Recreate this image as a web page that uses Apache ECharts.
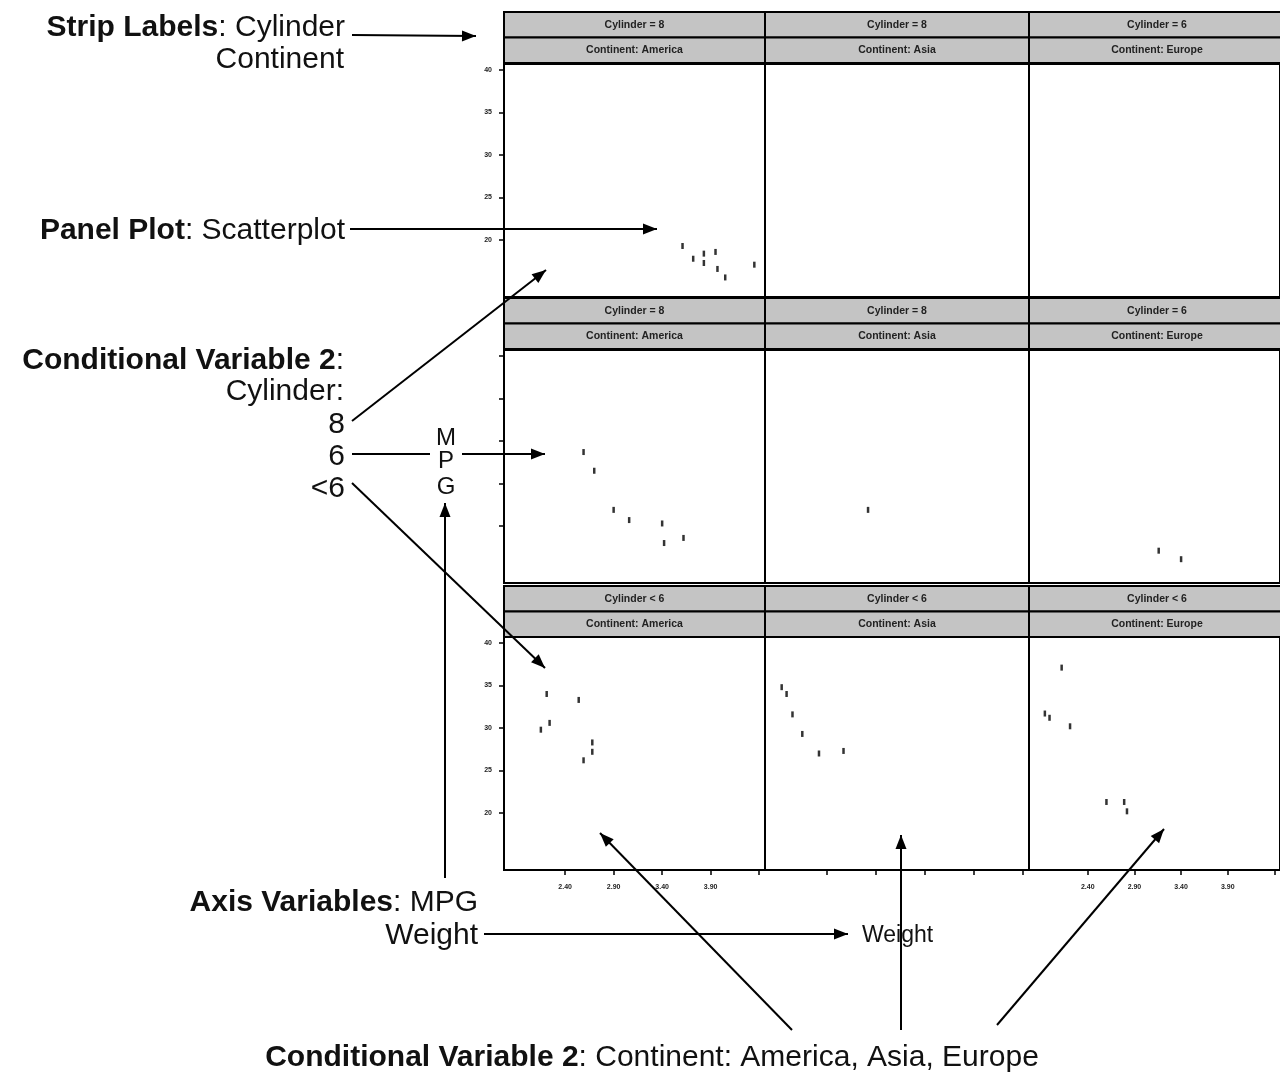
<!DOCTYPE html>
<html><head><meta charset="utf-8">
<script src="https://cdn.jsdelivr.net/npm/echarts@6/dist/echarts.min.js"></script>
<style>html,body{margin:0;padding:0;background:#fff}#c{width:1280px;height:1072px}</style>
</head><body><div id="c"></div>
<script>
// ---- data (Weight in 1000 lbs, MPG) ----
const cylinders = ['8', '6', '<6'];
const continents = ['America', 'Asia', 'Europe'];
const stripCyl = [
  ['Cylinder = 8', 'Cylinder = 8', 'Cylinder = 6'],
  ['Cylinder = 8', 'Cylinder = 8', 'Cylinder = 6'],
  ['Cylinder < 6', 'Cylinder < 6', 'Cylinder < 6']
];
const stripCont = ['Continent: America', 'Continent: Asia', 'Continent: Europe'];

const cyl8America_weight = [3.61, 3.72, 3.83, 3.83, 3.95, 3.97, 4.05, 4.35];
const cyl8America_mpg    = [19.3, 17.8, 18.4, 17.3, 18.6, 16.6, 15.6, 17.1];
const cyl8Asia_weight = [];
const cyl8Asia_mpg    = [];
const cyl8Europe_weight = [];
const cyl8Europe_mpg    = [];

const cyl6America_weight = [2.59, 2.70, 2.90, 3.06, 3.40, 3.42, 3.62];
const cyl6America_mpg    = [28.7, 26.5, 21.9, 20.7, 20.3, 18.0, 18.6];
const cyl6Asia_weight = [2.82];
const cyl6Asia_mpg    = [21.9];
const cyl6Europe_weight = [3.16, 3.40];
const cyl6Europe_mpg    = [17.1, 16.1];

const cylLt6America_weight = [2.21, 2.15, 2.24, 2.54, 2.59, 2.68, 2.68];
const cylLt6America_mpg    = [34.0, 29.8, 30.6, 33.3, 26.2, 27.2, 28.3];
const cylLt6Asia_weight = [1.94, 1.99, 2.05, 2.15, 2.32, 2.57];
const cylLt6Asia_mpg    = [34.8, 34.0, 31.6, 29.3, 27.0, 27.3];
const cylLt6Europe_weight = [2.12, 1.94, 1.99, 2.21, 2.60, 2.79, 2.82];
const cylLt6Europe_mpg    = [37.1, 31.7, 31.2, 30.2, 21.3, 21.3, 20.2];

const yTicks = [20, 25, 30, 35, 40];
const xTicks = [2.40, 2.90, 3.40, 3.90, 4.40];
const xLabels = [2.40, 2.90, 3.40, 3.90];
const X_MIN = 1.77, X_MAX = 4.46, Y_MIN = 13.3, Y_MAX = 40.7;

const panelData = [
  [[cyl8America_weight, cyl8America_mpg], [cyl8Asia_weight, cyl8Asia_mpg], [cyl8Europe_weight, cyl8Europe_mpg]],
  [[cyl6America_weight, cyl6America_mpg], [cyl6Asia_weight, cyl6Asia_mpg], [cyl6Europe_weight, cyl6Europe_mpg]],
  [[cylLt6America_weight, cylLt6America_mpg], [cylLt6Asia_weight, cylLt6Asia_mpg], [cylLt6Europe_weight, cylLt6Europe_mpg]]
];

// ---- layout ----
const colLeft = [504, 765, 1029], colW = [261, 264, 264];
const rowTop = [64, 350, 637], rowH = 233;
const stripTop = [12, 298, 586], stripH = 25.5;
const FONT = '"Liberation Sans", Arial, sans-serif';

const grids = [], xAxes = [], yAxes = [], series = [];
let gi = 0;
for (let r = 0; r < 3; r++) {
  for (let c = 0; c < 3; c++) {
    grids.push({left: colLeft[c], top: rowTop[r], width: colW[c], height: rowH,
      show: true, borderColor: '#000', borderWidth: 2, backgroundColor: '#fff'});
    xAxes.push({type: 'value', gridIndex: gi, min: X_MIN, max: X_MAX,
      axisLine: {show: false}, splitLine: {show: false},
      axisTick: {show: r === 2, length: 5, lineStyle: {color: '#000', width: 1.5}, customValues: xTicks},
      axisLabel: {show: r === 2 && c !== 1, customValues: xLabels, margin: 14,
        formatter: v => v.toFixed(2), fontSize: 7, fontWeight: 'bold', color: '#222', fontFamily: FONT}});
    yAxes.push({type: 'value', gridIndex: gi, min: Y_MIN, max: Y_MAX,
      axisLine: {show: false}, splitLine: {show: false},
      axisTick: {show: c === 0, length: 5, lineStyle: {color: '#000', width: 1.5}, customValues: yTicks},
      axisLabel: {show: c === 0 && r !== 1, customValues: yTicks, margin: 12,
        fontSize: 7, fontWeight: 'bold', color: '#222', fontFamily: FONT}});
    const [w, m] = panelData[r][c];
    series.push({type: 'scatter', xAxisIndex: gi, yAxisIndex: gi,
      data: w.map((x, i) => [x, m[i]]), symbol: 'rect', symbolSize: [2.5, 6],
      itemStyle: {color: '#000'}, silent: true});
    gi++;
  }
}

// ---- strips & annotations ----
const g = [];
for (let r = 0; r < 3; r++) {
  for (let c = 0; c < 3; c++) {
    [stripCyl[r][c], stripCont[c]].forEach((t, k) => {
      const y = stripTop[r] + k * stripH;
      g.push({type: 'rect', shape: {x: colLeft[c], y: y, width: colW[c], height: stripH},
        style: {fill: '#c4c4c4', stroke: '#000', lineWidth: 2}, z: 50});
      g.push({type: 'text', x: colLeft[c] + colW[c] / 2 - (c === 2 ? 4 : 0), y: y + stripH / 2,
        style: {text: t, align: 'center', verticalAlign: 'middle', font: 'bold 10.5px ' + FONT, fill: '#222'}, z: 51});
    });
  }
}
function arrow(x1, y1, x2, y2, head = true) {
  const els = [{type: 'line', shape: {x1, y1, x2, y2}, style: {stroke: '#000', lineWidth: 2}, z: 100}];
  if (head) {
    const a = Math.atan2(y2 - y1, x2 - x1), L = 14, W = 5.5;
    const bx = x2 - L * Math.cos(a), by = y2 - L * Math.sin(a);
    els.push({type: 'polygon', shape: {points: [[x2, y2],
      [bx + W * Math.sin(a), by - W * Math.cos(a)], [bx - W * Math.sin(a), by + W * Math.cos(a)]]},
      style: {fill: '#000'}, z: 100});
  }
  return els;
}
function label(text, x, y, size, align) {
  return {type: 'text', x, y, z: 100, style: {text, align: align || 'right', verticalAlign: 'middle',
    font: size + 'px ' + FONT, fill: '#111', rich: {b: {fontWeight: 'bold', fontSize: size, fontFamily: FONT, fill: '#111'}}}};
}
const D = 2.5; // vertical nudge so cap-heights line up with the reference
g.push(label('{b|Strip Labels}: Cylinder', 345, 25 + D, 30));
g.push(label('Continent', 344, 57 + D, 30));
g.push(...arrow(352, 35, 476, 36));
g.push(label('{b|Panel Plot}: Scatterplot', 345, 228 + D, 30));
g.push(...arrow(350, 229, 657, 229));
g.push(label('{b|Conditional Variable 2}:', 344, 358 + D, 30));
g.push(label('Cylinder:', 344, 389 + D, 30));
g.push(label('8', 345, 422 + D, 30));
g.push(label('6', 345, 454 + D, 30));
g.push(label('<6', 345, 486 + D, 30));
g.push(...arrow(352, 421, 546, 270));
g.push(...arrow(352, 454, 430, 454, false));
g.push(label('M', 446, 437 + 1, 24, 'center'));
g.push(label('P', 446, 460 + 1, 24, 'center'));
g.push(label('G', 446, 486 + 1, 24, 'center'));
g.push(...arrow(462, 454, 545, 454));
g.push(...arrow(352, 483, 545, 668));
g.push(...arrow(445, 878, 445, 503));
g.push(label('{b|Axis Variables}: MPG', 478, 900 + D, 30));
g.push(label('Weight', 478, 933 + D, 30));
g.push(...arrow(484, 934, 848, 934));
g.push(label('Weight', 862, 935 + 1, 23, 'left'));
g.push(label('{b|Conditional Variable 2}: Continent: America, Asia, Europe', 652, 1055 + D, 30, 'center'));
g.push(...arrow(792, 1030, 600, 833));
g.push(...arrow(901, 1030, 901, 835));
g.push(...arrow(997, 1025, 1164, 829));

const chart = echarts.init(document.getElementById('c'), null, {renderer: 'canvas'});
chart.setOption({
  backgroundColor: '#fff',
  animation: false,
  grid: grids, xAxis: xAxes, yAxis: yAxes, series: series,
  graphic: {elements: g}
});
</script></body></html>
